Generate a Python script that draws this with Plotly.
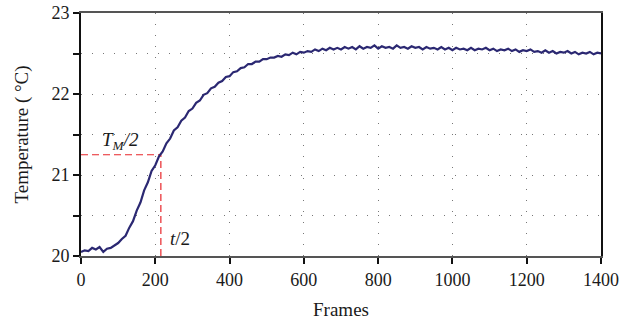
import plotly.graph_objects as go

frames = list(range(0, 1401, 10))
temperature = [
    20.05, 20.07, 20.06, 20.10, 20.08, 20.11, 20.05, 20.09, 20.10, 20.13, 20.16,
    20.21, 20.25, 20.35, 20.43, 20.56, 20.66, 20.81, 20.91, 21.05, 21.12,
    21.23, 21.29, 21.39, 21.45, 21.55, 21.59, 21.67, 21.71, 21.79, 21.82,
    21.89, 21.92, 21.99, 22.01, 22.07, 22.09, 22.14, 22.16, 22.21, 22.22,
    22.27, 22.28, 22.32, 22.33, 22.37, 22.37, 22.40, 22.40, 22.43, 22.43,
    22.45, 22.45, 22.47, 22.46, 22.49, 22.48, 22.51, 22.49, 22.52, 22.51,
    22.53, 22.52, 22.55, 22.53, 22.56, 22.54, 22.57, 22.55, 22.57, 22.55,
    22.58, 22.56, 22.58, 22.55, 22.59, 22.56, 22.58, 22.57, 22.60, 22.56,
    22.59, 22.57, 22.58, 22.56, 22.60, 22.57, 22.58, 22.56, 22.59, 22.57,
    22.58, 22.55, 22.58, 22.56, 22.57, 22.55, 22.58, 22.55, 22.57, 22.54,
    22.57, 22.55, 22.56, 22.54, 22.57, 22.54, 22.56, 22.55, 22.57, 22.54,
    22.56, 22.53, 22.55, 22.54, 22.56, 22.53, 22.55, 22.52, 22.54, 22.53,
    22.55, 22.52, 22.53, 22.51, 22.54, 22.51, 22.53, 22.50, 22.52, 22.51,
    22.53, 22.50, 22.52, 22.49, 22.51, 22.50, 22.52, 22.49, 22.51, 22.50,
]
half_time = 215
half_temp = 21.25
x_ticks = [0, 200, 400, 600, 800, 1000, 1200, 1400]

FONT = "Liberation Serif"
TXT = "#1a1a1a"
fig = go.Figure()
fig.add_trace(go.Scatter(x=[0, half_time], y=[half_temp, half_temp], mode="lines",
                         line=dict(color="#e8262b", width=1.2, dash="7px,4px"), hoverinfo="skip"))
fig.add_trace(go.Scatter(x=[half_time, half_time], y=[20, half_temp], mode="lines",
                         line=dict(color="#e8262b", width=1.2, dash="7px,4px"), hoverinfo="skip"))
fig.add_trace(go.Scatter(x=frames, y=temperature, mode="lines",
                         line=dict(color="#2b2872", width=2.2)))

fig.add_annotation(x=105, y=21.42, text="<i>T<sub>M</sub>/2</i>", showarrow=False,
                   font=dict(family=FONT, size=19, color=TXT))
fig.add_annotation(x=267, y=20.22, text="<i>t</i>/2", showarrow=False,
                   font=dict(family=FONT, size=19, color=TXT))

fig.update_layout(
    width=622, height=323,
    margin=dict(l=81, r=21, t=13, b=67),
    paper_bgcolor="white", plot_bgcolor="white",
    showlegend=False,
    font=dict(family=FONT, size=18, color=TXT),
)
fig.update_xaxes(
    range=[0, 1400], tickvals=x_ticks, ticks="outside", ticklen=6, tickwidth=2, tickcolor="#111",
    showline=True, linecolor="#555", linewidth=2, mirror=True, automargin=False,
    showgrid=True, gridcolor="#777", gridwidth=1, griddash="1px,10px",
    zeroline=False,
    title=dict(text="Frames", font=dict(family=FONT, size=19, color=TXT), standoff=14),
    tickfont=dict(family=FONT, size=18, color=TXT),
)
fig.update_yaxes(
    range=[20, 23], dtick=1, tick0=20, ticks="outside", ticklen=6, tickwidth=2,
    tickcolor="#111",
    minor=dict(dtick=0.5, tick0=20, ticks="outside", ticklen=6, tickwidth=2, tickcolor="#111",
               showgrid=True, gridcolor="#777", gridwidth=1, griddash="1px,10px"),
    showline=True, linecolor="#111", linewidth=1.6, mirror=True, automargin=False,
    showgrid=True, gridcolor="#777", gridwidth=1, griddash="1px,10px",
    zeroline=False,
    title=dict(text="Temperature ( °C)", font=dict(family=FONT, size=19, color=TXT), standoff=18),
    tickfont=dict(family=FONT, size=18, color=TXT),
)

fig.write_html("out.html")
